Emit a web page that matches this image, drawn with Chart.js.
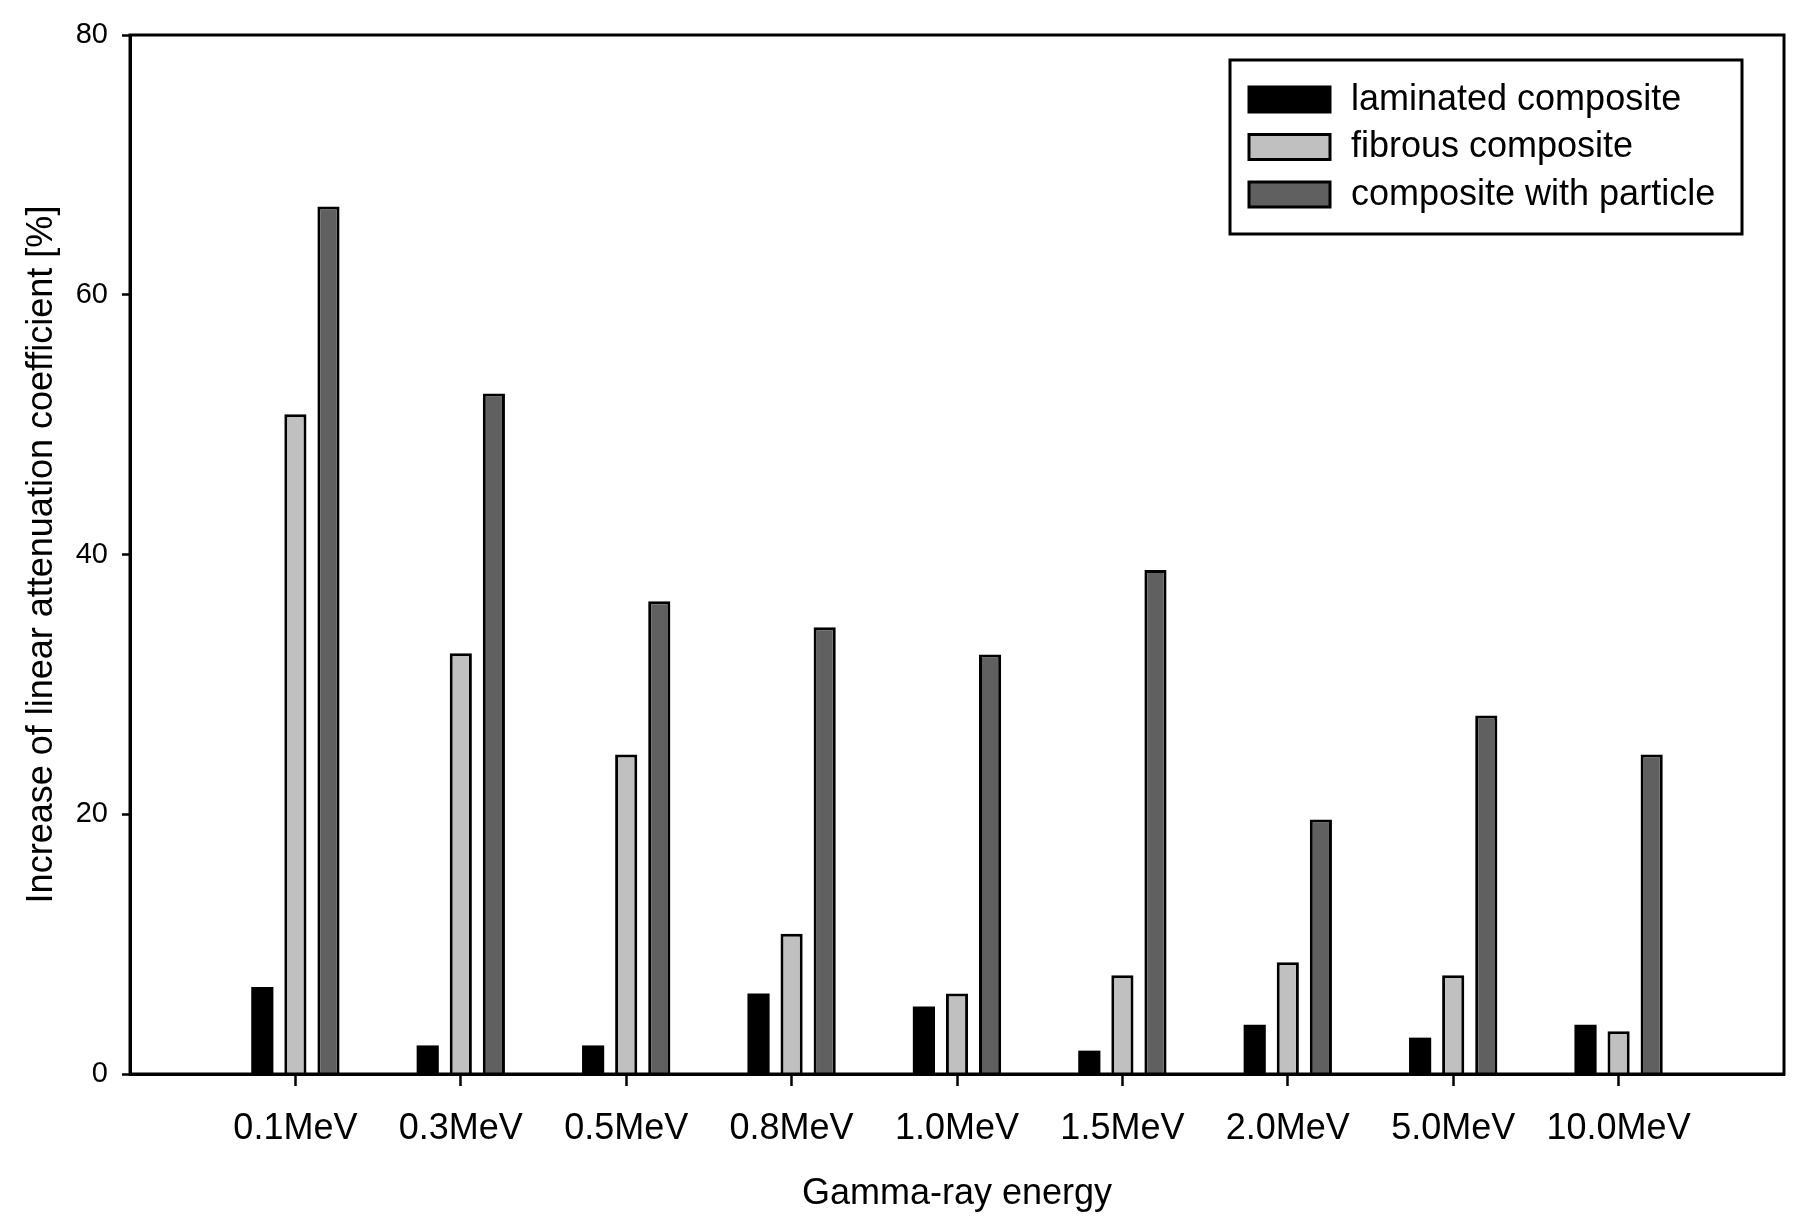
<!DOCTYPE html>
<html>
<head>
<meta charset="utf-8">
<script src="https://cdn.jsdelivr.net/npm/chart.js@4/dist/chart.umd.min.js"></script>
<style>
  body { margin: 0; background: #fff; }
</style>
</head>
<body>
<canvas id="mycanvas" width="1811" height="1224"></canvas>
<script>
// values
var categories = ['0.1MeV', '0.3MeV', '0.5MeV', '0.8MeV', '1.0MeV', '1.5MeV', '2.0MeV', '5.0MeV', '10.0MeV'];
var laminated = [6.7, 2.2, 2.2, 6.2, 5.2, 1.8, 3.8, 2.8, 3.8];
var fibrous   = [50.8, 32.4, 24.6, 10.8, 6.2, 7.6, 8.6, 7.6, 3.3];
var particle  = [66.8, 52.4, 36.4, 34.4, 32.3, 38.8, 19.6, 27.6, 24.6];
var yTicks = [0, 20, 40, 60, 80];

var FONT = 'Arial, "Liberation Sans", sans-serif';

// one empty slot each side so the groups sit away from the frame
function pad(arr, fill){
    return [fill].concat(arr).concat([fill]);
}

var frame = {
    id: 'frame',
    afterDraw: function(chart){
        var ctx = chart.ctx, a = chart.chartArea;
        ctx.save();
        ctx.strokeStyle = '#000';
        ctx.lineWidth = 3;
        ctx.strokeRect(a.left, a.top, a.right - a.left, a.bottom - a.top);
        ctx.restore();
    }
};

var boxLegend = {
    id: 'boxLegend',
    afterDraw: function(chart){
        var ctx = chart.ctx;
        ctx.save();
        ctx.strokeStyle = '#000';
        ctx.lineWidth = 3;
        ctx.strokeRect(1230, 60, 512, 174);
        ctx.font = '36px ' + FONT;
        ctx.textBaseline = 'middle';
        ctx.fillStyle = '#000';
        chart.data.datasets.forEach(function(ds, i){
            var y = 99 + i * 47.5;
            ctx.fillStyle = ds.backgroundColor;
            ctx.fillRect(1249, y - 12, 81, 25);
            ctx.lineWidth = 3;
            ctx.strokeRect(1249, y - 12, 81, 25);
            ctx.fillStyle = '#000';
            ctx.fillText(ds.label, 1351, y + 1);
        });
        ctx.restore();
    }
};

var chartData = {
    labels: pad(categories, ''),
    datasets: [
        {
            label: 'laminated composite',
            backgroundColor: '#000000',
            borderColor: '#000000',
            borderWidth: 0,
            data: pad(laminated, null)
        },
        {
            label: 'fibrous composite',
            backgroundColor: '#c0c0c0',
            borderColor: '#000000',
            borderWidth: 3,
            data: pad(fibrous, null)
        },
        {
            label: 'composite with particle',
            backgroundColor: '#606060',
            borderColor: '#000000',
            borderWidth: 3,
            data: pad(particle, null)
        }
    ]
};

var ctx = document.getElementById('mycanvas');

var barGraph = new Chart(ctx, {
    type: 'bar',
    data: chartData,
    plugins: [frame, boxLegend],
    options: {
        responsive: false,
        animation: false,
        layout: { padding: { left: 0, top: 35, right: 27, bottom: 0 } },
        datasets: {
            bar: { barPercentage: 0.67, categoryPercentage: 0.6 }
        },
        plugins: {
            legend: { display: false },
            tooltip: { enabled: false }
        },
        scales: {
            x: {
                offset: false,
                grid: {
                    offset: false,
                    drawOnChartArea: false,
                    tickLength: 12,
                    tickWidth: 2.5,
                    tickColor: function(c){
                        return (c.index === 0 || c.index === categories.length + 1) ? 'rgba(0,0,0,0)' : '#000';
                    }
                },
                border: { color: '#000', width: 3 },
                ticks: {
                    color: '#000',
                    font: { family: FONT, size: 36 },
                    padding: 21,
                    maxRotation: 0,
                    autoSkip: false
                },
                title: {
                    display: true,
                    text: 'Gamma-ray energy',
                    color: '#000',
                    font: { family: FONT, size: 36 },
                    padding: { top: 0, bottom: 8 }
                },
                afterFit: function(scale){ scale.height = 150; }
            },
            y: {
                min: 0,
                max: 80,
                afterBuildTicks: function(scale){
                    scale.ticks = yTicks.map(function(v){ return { value: v }; });
                },
                grid: {
                    drawOnChartArea: false,
                    tickLength: 8,
                    tickWidth: 2.5,
                    tickColor: '#000'
                },
                border: { color: '#000', width: 3 },
                ticks: {
                    color: '#000',
                    font: { family: FONT, size: 29 },
                    padding: 14
                },
                title: {
                    display: true,
                    text: 'Increase of linear attenuation coefficient [%]',
                    color: '#000',
                    font: { family: FONT, size: 36 },
                    padding: { top: 20, bottom: 0 }
                },
                afterFit: function(scale){ scale.width = 130; }
            }
        }
    }
});
</script>
</body>
</html>
